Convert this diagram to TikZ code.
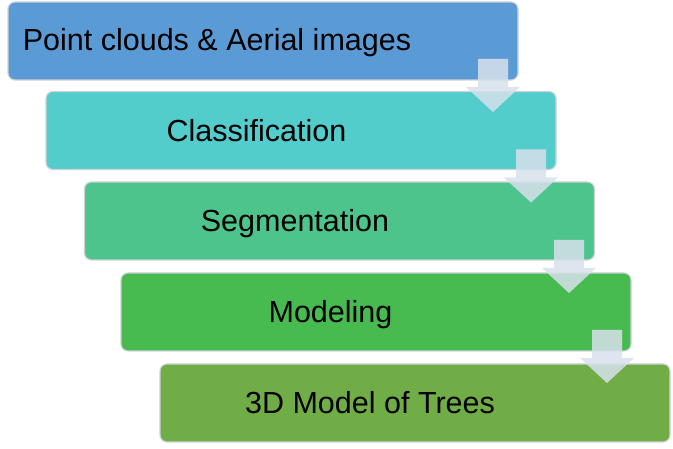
\documentclass[tikz,border=0pt]{standalone}
\usepackage{fontspec}
\setmainfont{Liberation Sans}
\definecolor{cA}{RGB}{91,155,213}
\definecolor{cB}{RGB}{83,204,204}
\definecolor{cC}{RGB}{77,196,140}
\definecolor{cD}{RGB}{71,187,80}
\definecolor{cE}{RGB}{112,173,71}
\definecolor{cBorder}{RGB}{205,210,215}
\definecolor{cArrow}{RGB}{215,225,236}
\tikzset{
  stagebox/.style={draw=cBorder, line width=1.2pt, rounded corners=7pt, minimum width=510pt, minimum height=78pt, inner sep=0pt, outer sep=0pt},
  stagetext/.style={font=\fontsize{30.5pt}{34pt}\selectfont, text=black, inner sep=0pt, anchor=base},
  flowarrow/.style={fill=cArrow, fill opacity=0.85, draw=none}
}
\newcommand{\downarrowshape}[3]{% name, center x, top y
  \fill[flowarrow] (#2-15,#3) -- (#2+15,#3) -- (#2+15,#3+28) -- (#2+27,#3+28) -- (#2,#3+53) -- (#2-27,#3+28) -- (#2-15,#3+28) -- cycle;
  \coordinate (#1) at (#2,#3+53);
}
\begin{document}
\begin{tikzpicture}[x=1pt,y=-1pt]
\useasboundingbox (0,0) rectangle (673,449);
\node[stagebox, fill=cA] (b1) at (263,41) {};
\node[stagebox, fill=cB] (b2) at (301,130.5) {};
\node[stagebox, fill=cC] (b3) at (339.5,221) {};
\node[stagebox, fill=cD] (b4) at (376,312) {};
\node[stagebox, fill=cE] (b5) at (415,403) {};
\node[stagetext] (t1) at (217,51) {Point clouds \& Aerial images};
\node[stagetext] (t2) at (256.5,142) {Classification};
\node[stagetext] (t3) at (295,232) {Segmentation};
\node[stagetext] (t4) at (330.5,323) {Modeling};
\node[stagetext] (t5) at (370,413.5) {3D Model of Trees};
\downarrowshape{a1}{493}{59}
\downarrowshape{a2}{531}{149.5}
\downarrowshape{a3}{569}{240}
\downarrowshape{a4}{607}{330}
\end{tikzpicture}
\end{document}
